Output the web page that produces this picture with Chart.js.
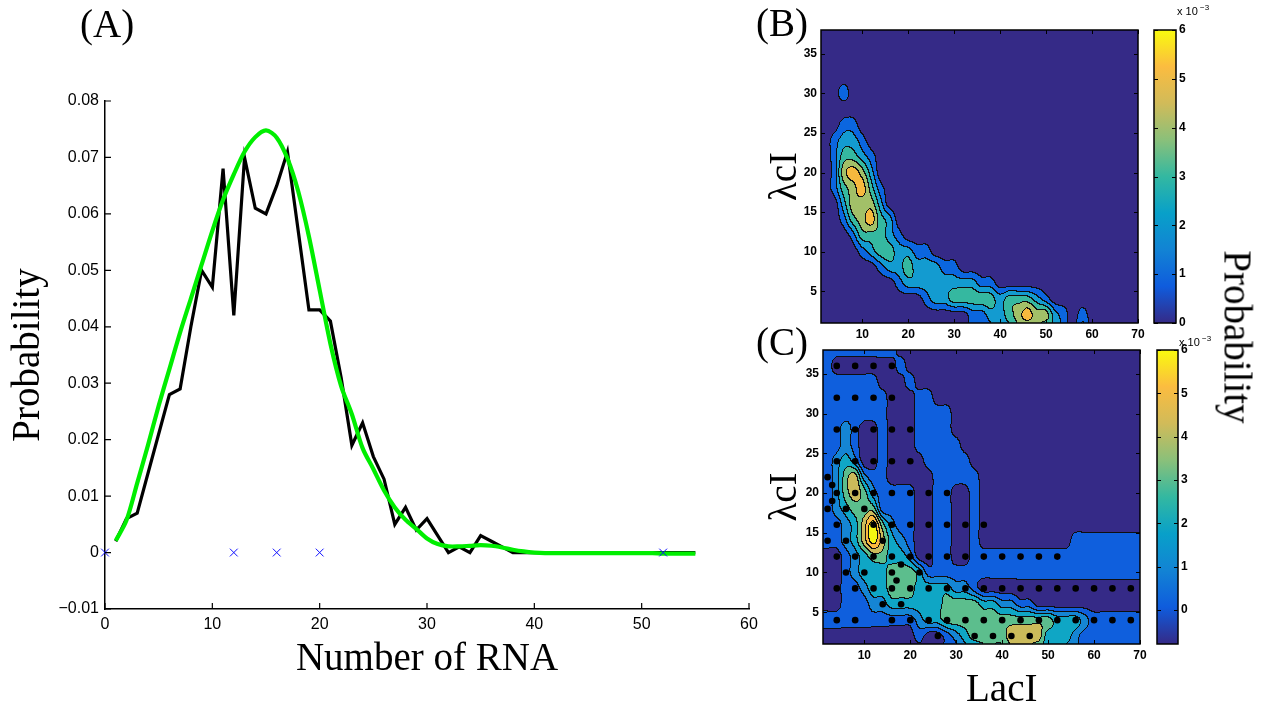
<!DOCTYPE html>
<html>
<head>
<meta charset="utf-8">
<script src="https://cdn.jsdelivr.net/npm/chart.js@4.4.1/dist/chart.umd.min.js"></script>
<style>
  body { margin: 0; background: #fff; }
  #page { position: relative; width: 1271px; height: 708px; overflow: hidden; background: #fff; }
  canvas { position: absolute; }
  .lbl { position: absolute; font-family: "Liberation Serif", serif; font-size: 39px; line-height: 1; color: #000; white-space: nowrap; }
</style>
</head>
<body>
<div id="page">
  <canvas id="rnaChart" width="780" height="708" style="left:0;top:0"></canvas>
  <canvas id="simChart" width="400" height="345" style="left:760px;top:0"></canvas>
  <canvas id="sampleChart" width="400" height="340" style="left:760px;top:330px"></canvas>
  <canvas id="simBar" width="80" height="345" style="left:1140px;top:0"></canvas>
  <canvas id="sampleBar" width="80" height="340" style="left:1140px;top:330px"></canvas>
  <div class="lbl" style="left:80px;top:4px">(A)</div>
  <div class="lbl" style="left:756px;top:3px">(B)</div>
  <div class="lbl" style="left:756px;top:322px">(C)</div>
  <div class="lbl" style="left:966px;top:668px">LacI</div>
  <div class="lbl" style="left:1238px;top:337px;transform:translate(-50%,-50%) rotate(90deg)">Probability</div>
</div>
<script>
// (A) RNA count distribution
const rnaCounts = [1, 2, 3, 4, 5, 6, 7, 8, 9, 10, 11, 12, 13, 14, 15, 16, 17, 18, 19, 20,
  21, 22, 23, 24, 25, 26, 27, 28, 29, 30, 31, 32, 33, 34, 35, 36, 37, 38, 39, 40,
  41, 42, 43, 44, 45, 46, 47, 48, 49, 50, 51, 52, 53, 54, 55];
const measured = [0.002, 0.006, 0.007, 0.014, 0.021, 0.028, 0.029, 0.040, 0.050, 0.047,
  0.068, 0.042, 0.070, 0.061, 0.060, 0.065, 0.071, 0.057, 0.043, 0.043,
  0.041, 0.031, 0.019, 0.023, 0.017, 0.013, 0.005, 0.008, 0.004, 0.006,
  0.003, 0.000, 0.001, 0.000, 0.003, 0.002, 0.001, 0, 0, 0,
  0, 0, 0, 0, 0, 0, 0, 0, 0, 0, 0, 0, 0, 0, 0];
const fitted = [0.0021, 0.0057, 0.0123, 0.019, 0.026, 0.0325, 0.039, 0.045, 0.051, 0.057,
  0.0625, 0.067, 0.071, 0.0736, 0.0748, 0.0735, 0.0698, 0.064, 0.056, 0.0465,
  0.037, 0.0295, 0.0245, 0.0185, 0.0148, 0.011, 0.008, 0.0058, 0.0042, 0.0025,
  0.0015, 0.0011, 0.0011, 0.0012, 0.0013, 0.0012, 0.0009, 0.0005, 0.0002, 0.0,
  -0.0001, -0.0001, -0.0001, -0.0001, -0.0001, -0.0001, -0.0001, -0.0001, -0.0001, -0.0001,
  -0.0001, -0.0002, -0.0002, -0.0002, -0.0002];
const zeroCounts = [0, 12, 16, 20, 52];
const zeroProb = [0, 0, 0, 0, 0];
const rnaTicks = [0, 10, 20, 30, 40, 50, 60];
const probTicks = [-0.01, 0, 0.01, 0.02, 0.03, 0.04, 0.05, 0.06, 0.07, 0.08];

// (B)/(C) joint LacI / lambda cI probability, x10^-3, one digit per grid node
const lacIGrid = [0, 2, 4, 6, 8, 10, 12, 14, 16, 18, 20, 22, 24, 26, 28, 30, 32, 34,
  36, 38, 40, 42, 44, 46, 48, 50, 52, 54, 56, 58, 60, 62, 64, 66, 68, 70];
const cIGrid = [38, 36, 34, 32, 30, 28, 26, 24, 22, 20, 18, 16, 14, 12, 10, 8, 6, 4, 2, 0];
const simulatedLevels = [
  "000000000000000000000000000000000000",
  "000000000000000000000000000000000000",
  "000000000000000000000000000000000000",
  "000000000000000000000000000000000000",
  "000100000000000000000000000000000000",
  "000000000000000000000000000000000000",
  "000110000000000000000000000000000000",
  "001221000000000000000000000000000000",
  "001332100000000000000000000000000000",
  "001454200000000000000000000000000000",
  "001345310000000000000000000000000000",
  "000244420000000000000000000000000000",
  "000134532000000000000000000000000000",
  "000013332100000000000000000000000000",
  "000001233221100000000000000000000000",
  "000000012232221100000000000000000000",
  "000000000122222222110000000000000000",
  "000000000000122333332333210000000000",
  "000000000000000001122345442101000000",
  "000000000000000001112233322102000000"
];
const sampledLevels = [
  "111111111000000000000000000000000000",
  "110000000100000000000000000000000000",
  "111111100010000000000000000000000000",
  "111111110001100000000000000000000000",
  "111111110001111000000000000000000000",
  "111210010001111000000000000000000000",
  "111210010001111100000000000000000000",
  "112320010000111110000000000000000000",
  "112452110000011111000000000000000000",
  "112454211110011001000000000000000000",
  "112344411110011001000000000000000000",
  "111235742110011001000000000000000000",
  "111235753210011001000000000011111111",
  "000123443320011001111111111111111111",
  "000123334443111111111111111111111111",
  "000112334443333221000000000000000000",
  "000111223333334444332211000000000000",
  "111111111112334444444444443332111111",
  "000000000001001234444555533321111111",
  "000000000000001122333444333221111111"
];
const simulatedColors = ["#352a87", "#0b66df", "#139bd0", "#35b8a0", "#a2c068", "#f6b93e"];
const sampledColors = ["#352a87", "#0f5fdd", "#1585d4", "#0fa6c5", "#5cbe8d", "#cbbb5a", "#fab93f", "#f5f511"];
const parula = ["#352a87", "#0f5cdd", "#1283d4", "#08a0c9", "#33b8a1", "#8ac07a", "#d1bb59", "#fbbc40", "#f9fb0e"];

// sample points marked in (C)
const dotLacI = [4, 8, 12, 16, 4, 8, 12, 16, 4, 8, 12, 16, 20, 4, 8, 12, 16, 20, 2, 3,
  4, 8, 12, 16, 20, 24, 28, 3, 2, 6, 10,
  4, 12, 16, 20, 24, 28, 32, 36, 2, 6, 14,
  4, 8, 12, 16, 20, 24, 28, 32, 36, 40, 44, 48, 52,
  6, 10, 16, 18, 22, 17,
  4, 8, 12, 16, 20, 24, 28, 32, 36, 40, 44, 48, 52, 56, 60, 64, 68,
  14, 18,
  4, 8, 16, 20, 24, 28, 32, 36, 40, 44, 48, 52, 56, 60, 64, 68,
  26, 34, 38, 42, 46];
const dotCI = [36, 36, 36, 36, 32, 32, 32, 32, 28, 28, 28, 28, 28, 24, 24, 24, 24, 24, 22, 21,
  20, 20, 20, 20, 20, 20, 20, 19, 18, 18, 18,
  16, 16, 16, 16, 16, 16, 16, 16, 14, 14, 14,
  12, 12, 12, 12, 12, 12, 12, 12, 12, 12, 12, 12, 12,
  10, 10, 10, 11, 10, 9,
  8, 8, 8, 8, 8, 8, 8, 8, 8, 8, 8, 8, 8, 8, 8, 8, 8,
  6, 6,
  4, 4, 4, 4, 4, 4, 4, 4, 4, 4, 4, 4, 4, 4, 4, 4,
  2, 2, 2, 2, 2];
const lacITicks = [10, 20, 30, 40, 50, 60, 70];
const cITicks = [5, 10, 15, 20, 25, 30, 35];
const barTicks = [0, 1, 2, 3, 4, 5, 6];

Chart.defaults.font.family = "Liberation Sans";
Chart.defaults.color = "#000";

const serif = { family: "Liberation Serif", size: 39 };
const smallBold = { family: "Liberation Sans", size: 12, weight: "bold" };

function toRgb(hex) {
  const n = parseInt(hex.slice(1), 16);
  return [(n >> 16) & 255, (n >> 8) & 255, n & 255];
}

// find the grid cell holding v and the fraction across it
function locate(grid, v) {
  for (let i = 0; i < grid.length - 1; i++) {
    const a = grid[i], b = grid[i + 1];
    if ((v - a) * (v - b) <= 0) return [i, (v - a) / (b - a)];
  }
  return [grid.length - 2, 1];
}

// Catmull-Rom weights, keeps node values and gives rounded iso-lines
function cubicWeights(t) {
  const t2 = t * t, t3 = t2 * t;
  return [(-t + 2 * t2 - t3) / 2, (2 - 5 * t2 + 3 * t3) / 2, (t + 4 * t2 - 3 * t3) / 2, (t3 - t2) / 2];
}

// filled contour bands with black iso-lines, drawn through the chart scales
function contourLayer(xs, ys, rows, colors) {
  const grid = rows.map(r => xs.map((_, i) => Number(r[i] || 0)));
  const nr = grid.length, nc = xs.length;
  const rgb = colors.map(toRgb);
  const at = (r, c) => grid[Math.max(0, Math.min(nr - 1, r))][Math.max(0, Math.min(nc - 1, c))];
  return {
    id: "contourLayer",
    beforeDatasetsDraw(chart) {
      const { ctx, chartArea: a, scales: { x, y } } = chart;
      const left = Math.round(a.left), top = Math.round(a.top);
      const w = Math.round(a.right) - left, h = Math.round(a.bottom) - top;
      const cols = [];
      for (let i = 0; i < w; i++) {
        const [c, fx] = locate(xs, x.getValueForPixel(left + i + 0.5));
        cols.push([c, cubicWeights(fx)]);
      }
      const band = new Uint8Array(w * h);
      for (let j = 0; j < h; j++) {
        const [r, fy] = locate(ys, y.getValueForPixel(top + j + 0.5));
        const wy = cubicWeights(fy);
        for (let i = 0; i < w; i++) {
          const [c, wx] = cols[i];
          let v = 0;
          for (let m = 0; m < 4; m++) {
            let row = 0;
            for (let n = 0; n < 4; n++) row += wx[n] * at(r - 1 + m, c - 1 + n);
            v += wy[m] * row;
          }
          band[j * w + i] = Math.max(0, Math.min(colors.length - 1, Math.floor(v + 0.5)));
        }
      }
      const img = ctx.createImageData(w, h);
      for (let j = 0; j < h; j++) {
        for (let i = 0; i < w; i++) {
          const k = j * w + i, b = band[k];
          const edge = (i < w - 1 && band[k + 1] !== b) || (j < h - 1 && band[k + w] !== b);
          const c = edge ? [15, 15, 15] : rgb[b];
          img.data[k * 4] = c[0];
          img.data[k * 4 + 1] = c[1];
          img.data[k * 4 + 2] = c[2];
          img.data[k * 4 + 3] = 255;
        }
      }
      ctx.putImageData(img, left, top);
    }
  };
}

// frame and inward tick marks on all four sides
const boxTicks = {
  id: "boxTicks",
  afterDatasetsDraw(chart) {
    const { ctx, chartArea: a, scales: { x, y } } = chart;
    ctx.save();
    ctx.strokeStyle = "#000";
    ctx.lineWidth = 1;
    ctx.beginPath();
    x.ticks.forEach(t => {
      const p = Math.round(x.getPixelForValue(t.value)) + 0.5;
      ctx.moveTo(p, a.bottom); ctx.lineTo(p, a.bottom - 4);
      ctx.moveTo(p, a.top); ctx.lineTo(p, a.top + 4);
    });
    y.ticks.forEach(t => {
      const p = Math.round(y.getPixelForValue(t.value)) + 0.5;
      ctx.moveTo(a.left, p); ctx.lineTo(a.left + 4, p);
      ctx.moveTo(a.right, p); ctx.lineTo(a.right - 4, p);
    });
    ctx.stroke();
    ctx.lineWidth = 1.5;
    ctx.strokeRect(a.left, a.top, a.right - a.left, a.bottom - a.top);
    ctx.restore();
  }
};

// ticks pointing into the plot on the left and bottom axes
const inwardTicks = {
  id: "inwardTicks",
  afterDraw(chart) {
    const { ctx, chartArea: a, scales: { x, y } } = chart;
    ctx.save();
    ctx.strokeStyle = "#000";
    ctx.lineWidth = 1.2;
    ctx.beginPath();
    x.ticks.forEach(t => {
      const p = x.getPixelForValue(t.value);
      ctx.moveTo(p, a.bottom); ctx.lineTo(p, a.bottom - 6);
    });
    y.ticks.forEach(t => {
      const p = y.getPixelForValue(t.value);
      ctx.moveTo(a.left, p); ctx.lineTo(a.left + 6, p);
    });
    ctx.stroke();
    ctx.restore();
  }
};

function colorBarLayer(labelLift) {
  return {
    id: "colorBarLayer",
    beforeDatasetsDraw(chart) {
      const { ctx, chartArea: a } = chart;
      const g = ctx.createLinearGradient(0, a.bottom, 0, a.top);
      parula.forEach((c, i) => g.addColorStop(i / (parula.length - 1), c));
      ctx.fillStyle = g;
      ctx.fillRect(a.left, a.top, a.right - a.left, a.bottom - a.top);
    },
    afterDraw(chart) {
      const { ctx, chartArea: a, scales: { y } } = chart;
      ctx.save();
      ctx.strokeStyle = "#000";
      ctx.lineWidth = 1;
      ctx.beginPath();
      y.ticks.forEach(t => {
        const p = Math.round(y.getPixelForValue(t.value)) + 0.5;
        ctx.moveTo(a.left, p); ctx.lineTo(a.left + 4, p);
        ctx.moveTo(a.right, p); ctx.lineTo(a.right - 4, p);
      });
      ctx.stroke();
      ctx.lineWidth = 1.5;
      ctx.strokeRect(a.left, a.top, a.right - a.left, a.bottom - a.top);
      ctx.fillStyle = "#000";
      ctx.textBaseline = "alphabetic";
      ctx.textAlign = "left";
      ctx.font = "11px 'Liberation Sans'";
      ctx.fillText("x 10", a.right + 1, a.top - labelLift);
      ctx.font = "8px 'Liberation Sans'";
      ctx.fillText("\u22123", a.right + 24, a.top - labelLift - 5);
      ctx.restore();
    }
  };
}

function fixedTicks(list) {
  return scale => { scale.ticks = list.map(v => ({ value: v })); };
}

// (A)
new Chart(document.getElementById("rnaChart"), {
  type: "scatter",
  data: {
    datasets: [
      {
        data: rnaCounts.map((n, i) => ({ x: n, y: measured[i] })),
        showLine: true, borderColor: "#000", borderWidth: 3.2, pointRadius: 0, order: 3
      },
      {
        data: rnaCounts.map((n, i) => ({ x: n, y: fitted[i] })),
        showLine: true, borderColor: "#00ee00", borderWidth: 4.2, pointRadius: 0, tension: 0.3, order: 2
      },
      {
        data: zeroCounts.map((n, i) => ({ x: n, y: zeroProb[i] })),
        pointStyle: "crossRot", pointRadius: 5.5, borderColor: "#1010ff", backgroundColor: "#1010ff",
        borderWidth: 1, clip: false, order: 1
      }
    ]
  },
  options: {
    responsive: false,
    animation: false,
    events: [],
    layout: { padding: { top: 101, right: 31, bottom: 0, left: 0 } },
    plugins: { legend: { display: false }, tooltip: { enabled: false } },
    scales: {
      x: {
        type: "linear", min: 0, max: 60,
        afterBuildTicks: fixedTicks(rnaTicks),
        ticks: { font: { size: 16 }, padding: 6, maxRotation: 0 },
        grid: { display: false, drawTicks: false },
        border: { color: "#000", width: 1.5 },
        title: { display: true, text: "Number of RNA", font: serif, color: "#000", padding: { bottom: 25 } },
        afterFit(s) { s.height = 99; }
      },
      y: {
        min: -0.01, max: 0.08,
        afterBuildTicks: fixedTicks(probTicks),
        ticks: {
          font: { size: 16 }, padding: 6,
          callback: v => Math.abs(v) < 1e-9 ? "0" : (v < 0 ? "\u2212" : "") + Math.abs(v).toFixed(2)
        },
        grid: { display: false, drawTicks: false },
        border: { color: "#000", width: 1.5 },
        title: { display: true, text: "Probability", font: serif, color: "#000", padding: { top: 5 } },
        afterFit(s) { s.width = 105; }
      }
    }
  },
  plugins: [inwardTicks]
});

function jointChart(id, levels, colors, pad, yWidth, xHeight, withDots) {
  const datasets = withDots ? [{
    data: dotLacI.map((v, i) => ({ x: v, y: dotCI[i] })),
    pointRadius: 3.3, backgroundColor: "#000", borderWidth: 0
  }] : [];
  return new Chart(document.getElementById(id), {
    type: "scatter",
    data: { datasets },
    options: {
      responsive: false,
      animation: false,
      events: [],
      layout: { padding: pad },
      plugins: { legend: { display: false }, tooltip: { enabled: false } },
      scales: {
        x: {
          type: "linear", min: 1, max: 70,
          afterBuildTicks: fixedTicks(lacITicks),
          ticks: { font: smallBold, padding: 4, maxRotation: 0, autoSkip: false },
          grid: { display: false, drawTicks: false },
          border: { display: false },
          afterFit(s) { s.height = xHeight; }
        },
        y: {
          min: 1, max: 38,
          afterBuildTicks: fixedTicks(cITicks),
          ticks: { font: smallBold, padding: 4, autoSkip: false },
          grid: { display: false, drawTicks: false },
          border: { display: false },
          title: { display: true, text: "\u03bbcI", font: serif, color: "#000", padding: { top: 2 } },
          afterFit(s) { s.width = yWidth; }
        }
      }
    },
    plugins: [contourLayer(lacIGrid, cIGrid, levels, colors), boxTicks]
  });
}

// (B) simulated, (C) sampled
jointChart("simChart", simulatedLevels, simulatedColors, { top: 30, right: 22, bottom: 0, left: 0 }, 61, 22, false);
jointChart("sampleChart", sampledLevels, sampledColors, { top: 20, right: 20, bottom: 0, left: 0 }, 63, 26, true);

function colorBar(id, min, pad, axisWidth, lift) {
  return new Chart(document.getElementById(id), {
    type: "scatter",
    data: { datasets: [] },
    options: {
      responsive: false,
      animation: false,
      events: [],
      layout: { padding: pad },
      plugins: { legend: { display: false }, tooltip: { enabled: false } },
      scales: {
        x: { display: false, min: 0, max: 1 },
        y: {
          position: "right", min, max: 6,
          afterBuildTicks: fixedTicks(barTicks),
          ticks: { font: smallBold, padding: 3 },
          grid: { display: false, drawTicks: false },
          border: { display: false },
          afterFit(s) { s.width = axisWidth; }
        }
      }
    },
    plugins: [colorBarLayer(lift)]
  });
}

colorBar("simBar", 0, { top: 30, right: 0, bottom: 22, left: 14 }, 44, 15);
colorBar("sampleBar", -0.78, { top: 20, right: 0, bottom: 26, left: 17 }, 42, 4);
</script>
</body>
</html>
